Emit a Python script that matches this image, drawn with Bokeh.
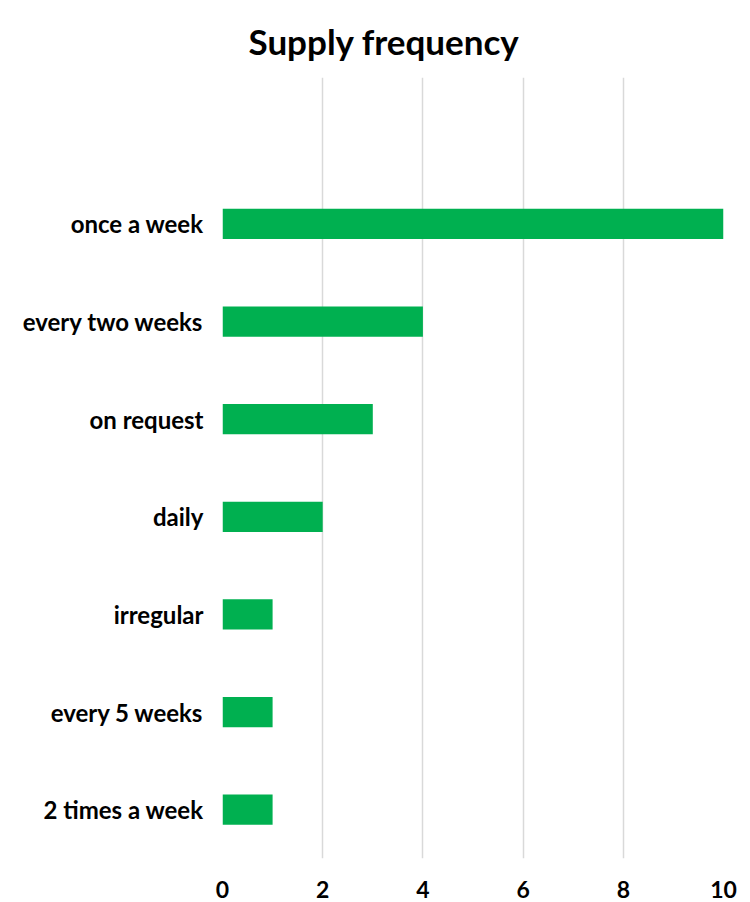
from bokeh.plotting import figure
from bokeh.models import FactorRange, Range1d, FixedTicker, Title
from bokeh.embed import file_html
from bokeh.resources import INLINE

# data (bottom to top)
categories = ["2 times a week", "every 5 weeks", "irregular", "daily",
              "on request", "every two weeks", "once a week"]
counts = [1, 1, 1, 2, 3, 4, 10]
x_ticks = [0, 2, 4, 6, 8, 10]
title_text = "Supply frequency"

FONT = "Lato"

p = figure(width=750, height=902, output_backend="svg", toolbar_location=None,
           y_range=FactorRange(factors=categories + [" "]),
           x_range=Range1d(0, 10))
p.min_border_left = 222
p.min_border_right = 27
p.min_border_top = 77
p.min_border_bottom = 44

p.hbar(y=categories, right=counts, height=0.31, left=0,
       fill_color="#00B050", line_color=None)

p.title = Title(text=title_text, align="left", offset=26,
                text_font=FONT, text_font_size="35px", text_font_style="bold",
                text_color="#000000", standoff=32)

p.xaxis.ticker = FixedTicker(ticks=x_ticks)
p.xaxis.axis_line_color = None
p.xaxis.major_tick_line_color = None
p.xaxis.minor_tick_line_color = None
p.xaxis.major_label_standoff = 16
p.xaxis.major_label_text_font = FONT
p.xaxis.major_label_text_font_size = "23px"
p.xaxis.major_label_text_font_style = "bold"
p.xaxis.major_label_text_color = "#000000"

p.yaxis.axis_line_color = None
p.yaxis.major_tick_line_color = None
p.yaxis.minor_tick_line_color = None
p.yaxis.major_label_standoff = 13
p.yaxis.major_label_text_font = FONT
p.yaxis.major_label_text_font_size = "24px"
p.yaxis.major_label_text_font_style = "bold"
p.yaxis.major_label_text_color = "#000000"

p.ygrid.grid_line_color = None
p.xgrid.grid_line_color = "#D9D9D9"
p.xgrid.grid_line_width = 1.5
p.outline_line_color = None
p.background_fill_color = "white"
p.border_fill_color = "white"

open("out.html", "w").write(file_html(p, INLINE))
